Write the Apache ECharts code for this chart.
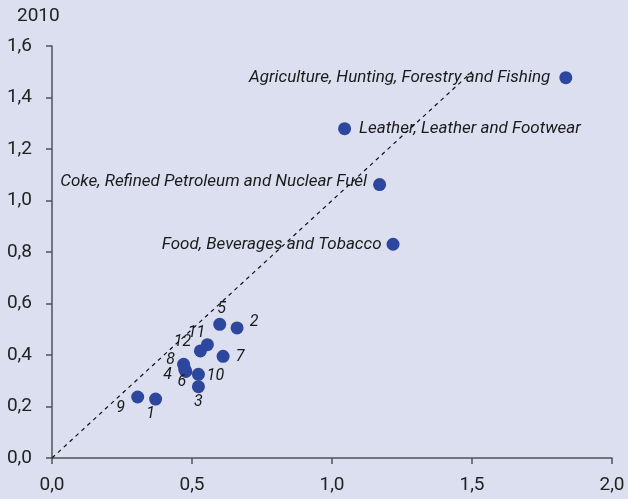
<!DOCTYPE html>
<html><head><meta charset="utf-8">
<script src="https://cdn.jsdelivr.net/npm/echarts@6/dist/echarts.min.js"></script>
<style>html,body{margin:0;padding:0;background:#dcdff0;}#c{width:628px;height:499px;}</style>
</head><body><div id="c"></div>
<script>
// Data
const names = ["Agriculture, Hunting, Forestry and Fishing","Leather, Leather and Footwear","Coke, Refined Petroleum and Nuclear Fuel","Food, Beverages and Tobacco","5","2","11","12","7","8","4","6","10","3","9","1"];
const xValues = [1.835,1.045,1.170,1.218,0.599,0.661,0.555,0.530,0.611,0.470,0.474,0.478,0.523,0.523,0.306,0.370];
const yValues = [1.477,1.279,1.062,0.830,0.519,0.505,0.440,0.416,0.395,0.364,0.345,0.336,0.325,0.277,0.237,0.229];
const refLineX = [0, 1.5];
const refLineY = [0, 1.5];
const yTitle = "2010";

// Label styling (not data)
const labelStyle = {
  "Agriculture, Hunting, Forestry and Fishing": {position:"left", distance:9},
  "Leather, Leather and Footwear": {position:"right", distance:8},
  "Coke, Refined Petroleum and Nuclear Fuel": {position:"left", distance:6, offset:[0,-3]},
  "Food, Beverages and Tobacco": {position:"left", distance:5},
  "5": {offset:[2,-15]}, "2": {offset:[17,-6]}, "11": {offset:[-11,-12]},
  "12": {offset:[-18,-9]}, "7": {offset:[17,1]}, "8": {offset:[-13,-4]},
  "4": {offset:[-17,6]}, "6": {offset:[-4,11]}, "10": {offset:[17,2]},
  "3": {offset:[0,15]}, "9": {offset:[-17,11]}, "1": {offset:[-5,15]}
};

const pts = names.map((n,i)=>{
  const s = labelStyle[n];
  const lab = s.position ? {position:s.position, distance:s.distance, offset:s.offset||[0,0], fontSize:17} : {position:"inside", offset:s.offset, fontSize:16};
  return {name:n, value:[xValues[i], yValues[i]], label:lab};
});

const chart = echarts.init(document.getElementById('c'), null, {renderer:'canvas'});
const axisCol = '#505358';
const font = 'Roboto, "Liberation Sans", sans-serif';
chart.setOption({
  backgroundColor:'#dcdff0',
  animation:false,
  textStyle:{fontFamily:font},
  grid:{left:52, right:16, top:46, bottom:41, containLabel:false},
  graphic:[{type:'text', left:17, top:7, style:{text:yTitle, fontSize:19, fill:'#222', fontFamily:font}}],
  xAxis:{type:'value', min:0, max:2, interval:0.5,
    axisLine:{show:true, lineStyle:{color:axisCol, width:1.5}},
    axisTick:{show:true, length:6, lineStyle:{color:axisCol, width:1.5}},
    splitLine:{show:false},
    axisLabel:{fontSize:19, color:'#222', margin:18, fontFamily:font, formatter:v=>v.toFixed(1).replace('.',',')}},
  yAxis:{type:'value', min:0, max:1.6, interval:0.2,
    axisLine:{show:true, lineStyle:{color:axisCol, width:1.5}},
    axisTick:{show:true, length:6, lineStyle:{color:axisCol, width:1.5}},
    splitLine:{show:false},
    axisLabel:{fontSize:19, color:'#222', margin:20, fontFamily:font, formatter:v=>v.toFixed(1).replace('.',',')}},
  series:[
    {type:'line', data:refLineX.map((x,i)=>[x, refLineY[i]]), symbol:'none', silent:true, z:5,
     lineStyle:{color:'#111', width:1.2, type:[4,4]}},
    {type:'scatter', data:pts, symbolSize:13, z:3,
     itemStyle:{color:'#2d479e', opacity:1},
     label:{show:true, formatter:p=>p.name, fontStyle:'italic', color:'#1a1a1a', fontFamily:font}}
  ]
});
</script></body></html>
